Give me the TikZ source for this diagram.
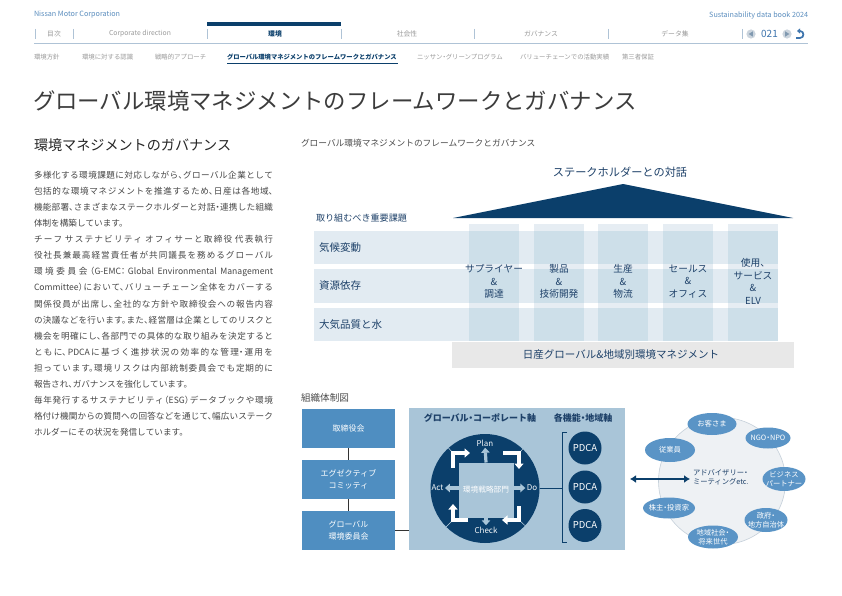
\documentclass[tikz,border=0pt]{standalone}
\usepackage{fontspec}
\setmainfont{Noto Sans CJK JP}[RawFeature=+halt]
\usetikzlibrary{arrows.meta,calc,shapes.geometric}

\definecolor{navy}{HTML}{0B3F6B}
\definecolor{hdrblue}{HTML}{5A8DBE}
\definecolor{tabgray}{HTML}{9A9A9A}
\definecolor{rule}{HTML}{AFC3D6}
\definecolor{bodytxt}{HTML}{464646}
\definecolor{titletxt}{HTML}{3C3C3C}
\definecolor{rowbg}{HTML}{E2EBF2}
\definecolor{colbg}{HTML}{E6EDF3}
\definecolor{crossbg}{HTML}{CDDFE9}
\definecolor{barbg}{HTML}{E8E8E8}
\definecolor{boxblue}{HTML}{4F8EC1}
\definecolor{actorfill}{HTML}{5A94C6}
\definecolor{panel}{HTML}{A9C5D8}
\definecolor{ringbg}{HTML}{EEF1F4}
\definecolor{ringline}{HTML}{C4CFD9}
\definecolor{labnavy}{HTML}{1E4169}
\definecolor{linkgray}{HTML}{333333}
\definecolor{pagenum}{HTML}{3D74AD}
\definecolor{navdisc}{HTML}{CBD4DD}
\definecolor{navtri}{HTML}{8099B0}

\begin{document}
\begin{tikzpicture}[x=1pt,y=-1pt,
  every node/.style={inner sep=0pt, outer sep=0pt},
  tab/.style={font=\fontsize{6.8}{8}\selectfont, text=tabgray},
  sub/.style={anchor=west, font=\fontsize{6.4}{8}\selectfont, text=tabgray},
  sep/.style={draw=rule, line width=0.6pt},
  collab/.style={align=center, font=\fontsize{9.7}{12.5}\selectfont, text=labnavy},
  rowlab/.style={anchor=west, font=\fontsize{10.5}{12}\selectfont, text=labnavy},
  orgbox/.style={fill=boxblue, minimum width=93pt, minimum height=39pt, align=center, text=white, font=\fontsize{8}{12}\selectfont},
  link/.style={draw=linkgray, line width=0.8pt},
  pdca/.style={circle, fill=navy, minimum size=33pt, text=white, font=\fontsize{9.5}{10}\selectfont},
  cyclab/.style={text=white!88!panel, font=\fontsize{8}{9}\selectfont},
  outarrow/.style={draw=panel, line width=3.2pt, shorten >=1.5pt, -{Triangle[length=5pt,width=8.5pt]}},
  turnarrow/.style={draw=white, line width=4pt, line join=miter, -{Triangle[length=5.5pt,width=9pt]}},
  actor/.style={align=center, text=white, font=\fontsize{7.3}{9}\selectfont},
  axis/.style={font=\bfseries\fontsize{9}{10}\selectfont, text=labnavy},
]
\useasboundingbox (0,0) rectangle (842,596);
\fill[white] (0,0) rectangle (842,596);

% ---------- page header ----------
\node[anchor=west, font=\fontsize{7.2}{8}\selectfont, text=hdrblue] (corp) at (34,15) {Nissan Motor Corporation};
\node[anchor=east, font=\fontsize{7.2}{8}\selectfont, text=hdrblue] (book) at (808,15) {Sustainability data book 2024};

\fill[navy] (207,22) rectangle (341,26);
\foreach \x in {35,73,207,341,474,608,742} \draw[sep] (\x,29) -- (\x,39);
\node[tab] (t1) at (54,34) {目次};
\node[tab] (t2) at (140,34) {Corporate direction};
\node[tab, text=navy, font=\bfseries\fontsize{6.8}{8}\selectfont] (t3) at (275,34) {環境};
\node[tab] (t4) at (407,34) {社会性};
\node[tab] (t5) at (541,34) {ガバナンス};
\node[tab] (t6) at (675,34) {データ集};

% page navigation
\fill[navdisc] (751,34) circle[radius=4.6pt];
\fill[navtri] (748.6,34) -- (752.8,31.4) -- (752.8,36.6) -- cycle;
\node[font=\fontsize{10}{11}\selectfont, text=pagenum] (pg) at (769.5,34) {021};
\fill[navdisc] (787,34) circle[radius=4.6pt];
\fill[navtri] (789.4,34) -- (785.2,31.4) -- (785.2,36.6) -- cycle;
\draw[pagenum, line width=1.7pt, -{Triangle[length=3pt,width=5pt]}]
  (796,38) -- (800,38) .. controls (804.5,38) and (804.5,31) .. (800,31) -- (797,31);

\draw[rule, line width=0.8pt] (34,43) -- (808,43);

\node[sub] (s1) at (34,57) {環境方針};
\node[sub] (s2) at (82,57) {環境に対する認識};
\node[sub] (s3) at (155,57) {戦略的アプローチ};
\node[sub, text=navy, font=\bfseries\fontsize{6.3}{8}\selectfont] (s4) at (227,57) {グローバル環境マネジメントのフレームワークとガバナンス};
\node[sub] (s5) at (417,57) {ニッサン・グリーンプログラム};
\node[sub] (s6) at (520,57) {バリューチェーンでの活動実績};
\node[sub] (s7) at (622,57) {第三者保証};
\draw[navy, line width=1pt] (227,64) -- (398,64);

% ---------- titles ----------
\node[anchor=west, font=\fontsize{22.4}{24}\selectfont, text=titletxt] (title) at (33,101)
  {グローバル環境マネジメントのフレームワークとガバナンス};
\node[anchor=west, font=\fontsize{14.1}{16}\selectfont, text=black!85] (head) at (34,145)
  {環境マネジメントのガバナンス};

% ---------- body text ----------
\node[anchor=north west, text width=239pt, align=justify, text=bodytxt,
      font=\fontsize{8.6}{16.1}\selectfont] (body) at (34,171) {%
\XeTeXlinebreaklocale "ja"\XeTeXlinebreakskip=0pt plus 1.5pt\parindent=0pt\parskip=0pt\tolerance=9999
多様化する環境課題に対応しながら、グローバル企業として\linebreak
包括的な環境マネジメントを推進するため、日産は各地域、\linebreak
機能部署、さまざまなステークホルダーと対話・連携した組織\linebreak
体制を構築しています。\par
チーフ サステナビリティ オフィサーと取締役 代表執行\linebreak
役社長兼最高経営責任者が共同議長を務めるグローバル\linebreak
環境委員会（G-EMC：Global Environmental Management\linebreak
Committee）において、バリューチェーン全体をカバーする\linebreak
関係役員が出席し、全社的な方針や取締役会への報告内容\linebreak
の決議などを行います。また、経営層は企業としてのリスクと\linebreak
機会を明確にし、各部門での具体的な取り組みを決定すると\linebreak
ともに、PDCAに基づく進捗状況の効率的な管理・運用を\linebreak
担っています。環境リスクは内部統制委員会でも定期的に\linebreak
報告され、ガバナンスを強化しています。\par
毎年発行するサステナビリティ（ESG）データブックや環境\linebreak
格付け機関からの質問への回答などを通じて、幅広いステーク\linebreak
ホルダーにその状況を発信しています。};

% ---------- framework figure ----------
\node[anchor=west, font=\fontsize{8.7}{10}\selectfont, text=black!70] (figcap) at (301,143)
  {グローバル環境マネジメントのフレームワークとガバナンス};
\node[font=\fontsize{11.2}{12}\selectfont, text=labnavy] (dialog) at (620,172) {ステークホルダーとの対話};
\fill[navy] (453,218) -- (623,184) -- (793,218) -- cycle;
\node[anchor=west, font=\fontsize{9.1}{10}\selectfont, text=labnavy] (issues) at (316,218.5) {取り組むべき重要課題};

% value-chain columns and issue rows
\foreach \xa/\xb in {469/519,534/584,598/648,663/713,728/778}
  \fill[colbg] (\xa,224) rectangle (\xb,341);
\foreach \ya/\yb in {231/264,269/303,308/341}
  \fill[rowbg] (314,\ya) rectangle (778,\yb);
\foreach \xa/\xb in {469/519,534/584,598/648,663/713,728/778}
  \foreach \ya/\yb in {231/264,269/303,308/341}
    \fill[crossbg] (\xa,\ya) rectangle (\xb,\yb);

\node[rowlab] (r1) at (319,247.5) {気候変動};
\node[rowlab] (r2) at (319,286) {資源依存};
\node[rowlab] (r3) at (319,324.5) {大気品質と水};

\node[collab] (c1) at (494,281.5) {サプライヤー\\\&\\調達};
\node[collab] (c2) at (559,281.5) {製品\\\&\\技術開発};
\node[collab] (c3) at (623,281.5) {生産\\\&\\物流};
\node[collab] (c4) at (688,281.5) {セールス\\\&\\オフィス};
\node[collab] (c5) at (753,281.5) {使用、\\サービス\\\&\\ELV};

\fill[barbg] (452,342) rectangle (794,368);
\node[font=\fontsize{10.5}{12}\selectfont, text=labnavy] (mgmt) at (621,355) {日産グローバル\&地域別環境マネジメント};

% ---------- organisation chart ----------
\node[anchor=west, font=\fontsize{9.6}{10}\selectfont, text=black!70] (orgcap) at (301,398) {組織体制図};

\node[orgbox] (board) at (348.5,428.5) {取締役会};
\node[orgbox] (exec) at (348.5,479.5) {エグゼクティブ\\コミッティ};
\node[orgbox] (gemc) at (348.5,530.5) {グローバル\\環境委員会};
\draw[link] (board) -- (exec);
\draw[link] (exec) -- (gemc);

\node[fill=panel, minimum width=216pt, minimum height=142pt, anchor=north west] (panel) at (409,408) {};
\draw[link] (gemc.east) -- (gemc.east -| panel.west);

\node[axis] (corpaxis) at (480,418) {グローバル・コーポレート軸};
\node[axis] (funcaxis) at (583,418) {各機能・地域軸};

% PDCA cycle of the environmental strategy department
\node[circle, fill=navy, minimum size=109pt] (cyc) at (485,488.5) {};
\foreach \cx/\cy in {453/453,519/453,519/520,453/520}
  \draw[panel!70!white, line width=0.5pt] (\cx,\cy) -- ($(cyc.center)!54.5pt!(\cx,\cy)$);
\node[fill=panel, minimum size=55pt] (dept) at (486,490) {};
\node[text=white, font=\fontsize{7.7}{8}\selectfont] (deptlab) at (486,490) {環境戦略部門};

\node[cyclab] (plan) at (485,443) {Plan};
\node[cyclab] (do) at (532,488) {Do};
\node[cyclab] (check) at (486,530) {Check};
\node[cyclab] (act) at (437.5,488) {Act};
\draw[outarrow] (dept.north) -- (plan.south);
\draw[outarrow] (dept.east |- do.west) -- (do.west);
\draw[outarrow] (dept.south) -- (check.north);
\draw[outarrow] (dept.west |- act.east) -- (act.east);

\draw[turnarrow] (453,468) -- (453,453) -- (470,453);
\draw[turnarrow] (503,453) -- (519,453) -- (519,469);
\draw[turnarrow] (519,506) -- (519,520) -- (502,520);
\draw[turnarrow] (468,520) -- (453,520) -- (453,504);

% functional / regional PDCA
\coordinate (brk) at (562,488.5);
\draw[navy, line width=0.8pt] (cyc.east) -- (brk);
\draw[navy, line width=0.8pt] (567,432) -- (562,432) -- (562,542) -- (567,542);
\node[pdca] (p1) at (585,448) {PDCA};
\node[pdca] (p2) at (585,487) {PDCA};
\node[pdca] (p3) at (585,525.5) {PDCA};

% ---------- stakeholders ----------
\node[circle, fill=ringbg, draw=ringline, line width=0.6pt, minimum size=127pt] (ring) at (722,481) {};

\fill[actorfill] (712,424) ellipse[x radius=24.5pt, y radius=11pt];
\node[actor] (cust) at (712,424) {お客さま};
\fill[actorfill] (768,438) ellipse[x radius=22.5pt, y radius=10.5pt];
\node[actor] (ngo) at (768,438) {NGO・NPO};
\fill[actorfill] (784,479) ellipse[x radius=21.5pt, y radius=12pt];
\node[actor] (biz) at (784,479) {ビジネス\\パートナー};
\fill[actorfill] (766,520) ellipse[x radius=21.5pt, y radius=12pt];
\node[actor] (gov) at (766,520) {政府・\\地方自治体};
\fill[actorfill] (713,537) ellipse[x radius=25pt, y radius=11.5pt];
\node[actor] (comm) at (713,537) {地域社会・\\将来世代};
\fill[actorfill] (669,508) ellipse[x radius=26pt, y radius=10.5pt];
\node[actor] (share) at (669,508) {株主・投資家};
\fill[actorfill] (670,450) ellipse[x radius=25pt, y radius=12pt];
\node[actor] (staff) at (670,450) {従業員};

\node[anchor=west, align=left, text=labnavy, font=\fontsize{7.3}{9}\selectfont] (adv) at (693,477.5)
  {アドバイザリー・\\ミーティングetc.};
\coordinate (armL) at (630,479);
\draw[navy, line width=2.4pt, shorten >=3pt, {Latex[length=6pt,width=8pt]}-{Latex[length=6pt,width=8pt]}]
  (armL) -- (armL -| adv.west);
\end{tikzpicture}
\end{document}
